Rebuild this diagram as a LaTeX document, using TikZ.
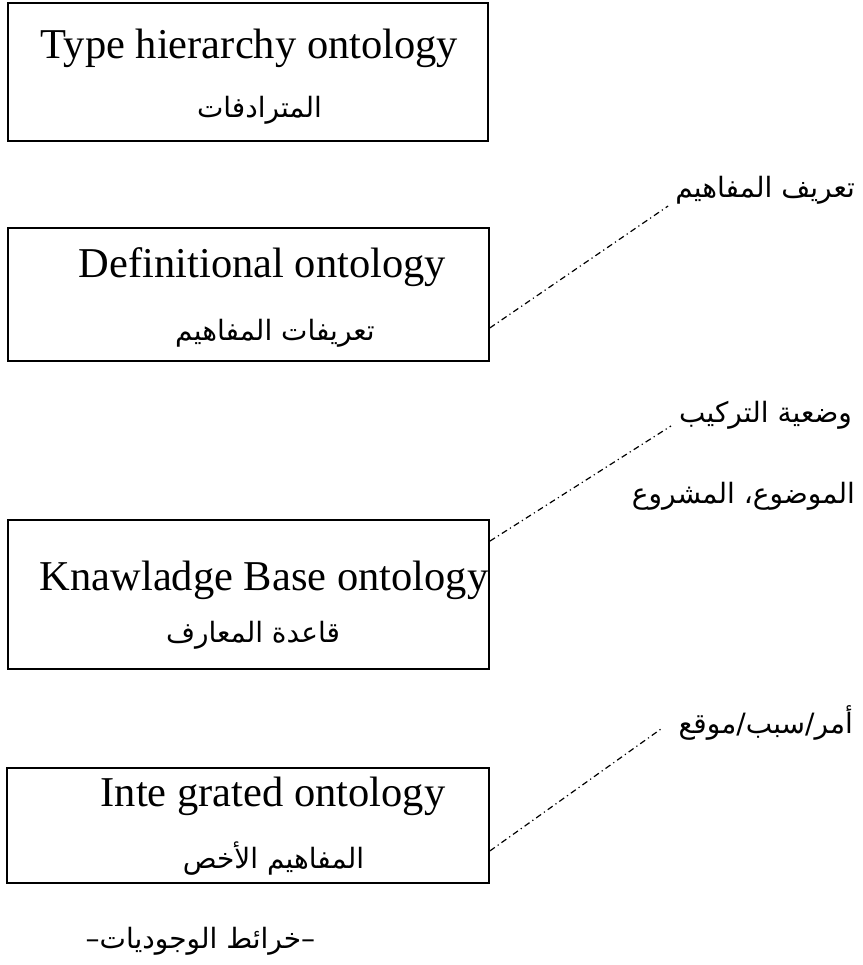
\documentclass[tikz,border=0pt]{standalone}
\usepackage{fontspec}
\setmainfont{Liberation Serif}
\newfontfamily\arabicfont[Script=Arabic]{DejaVu Sans}
\TeXXeTstate=1
\usetikzlibrary{calc}
% right-to-left run
\newcommand{\rtl}[1]{\beginR#1\endR}

\begin{document}
\begin{tikzpicture}[x=1pt,y=-1pt,
  box/.style={draw, line width=1.8pt, rectangle, inner sep=0pt},
  en/.style={font=\fontsize{42.5}{50}\selectfont, inner sep=0pt, anchor=base},
  arb/.style={font=\arabicfont\fontsize{28}{34}\selectfont, inner sep=0pt, anchor=base},
  lbl/.style={font=\arabicfont\fontsize{28}{34}\selectfont, inner sep=0pt, anchor=base east},
  dd/.style={line width=1.2pt, dash pattern=on 6pt off 3.5pt on 1.2pt off 3.5pt}]
\useasboundingbox (0,0) rectangle (862,965);

% ontology boxes
\node[box, minimum width=480pt, minimum height=138pt] (b1) at (248,72) {};
\node[box, minimum width=481pt, minimum height=133pt] (b2) at (248.5,294.5) {};
\node[box, minimum width=481pt, minimum height=149pt] (b3) at (248.5,594.5) {};
\node[box, minimum width=482pt, minimum height=115pt] (b4) at (248,825.5) {};

% box titles
\node[en] (t1) at (249.5,59) {Type hierarchy ontology};
\node[arb] (a1) at (259.5,118) {\rtl{المترادفات}};
\node[en] (t2) at (262.5,278) {Definitional ontology};
\node[arb] (a2) at (275,340) {\rtl{تعريفات المفاهيم}};
\node[en] (t3) at (264,590) {Knawladge Base ontology};
\node[arb] (a3) at (253,642) {\rtl{قاعدة المعارف}};
\node[en] (t4) at (273,806) {Inte grated ontology};
\node[arb] (a4) at (273.5,868) {\rtl{المفاهيم الأخص}};

% side labels
\node[lbl] (l1) at (855,198) {\rtl{تعريف المفاهيم}};
\node[lbl] (l2) at (852,422) {\rtl{وضعية التركيب}};
\node[lbl] (l3) at (855,503) {\rtl{الموضوع، المشروع}};
\node[lbl] (l4) at (853,733) {\rtl{أمر/سبب/موقع}};

% caption
\node[arb] (cap) at (200.5,948) {\rtl{–خرائط الوجوديات–}};

% connector end points on the box edges
\coordinate (e2) at ($(b2.south east)+(0,-34)$);
\coordinate (e3) at ($(b3.north east)+(0,22)$);
\coordinate (e4) at ($(b4.south east)+(0,-33)$);

\draw[dd] (e2) -- ($(l1.base west)+(-7,8)$);
\draw[dd] (e3) -- ($(l2.base west)+(-8,4)$);
\draw[dd] (e4) -- ($(l4.base west)+(-16,-5)$);
\end{tikzpicture}
\end{document}
